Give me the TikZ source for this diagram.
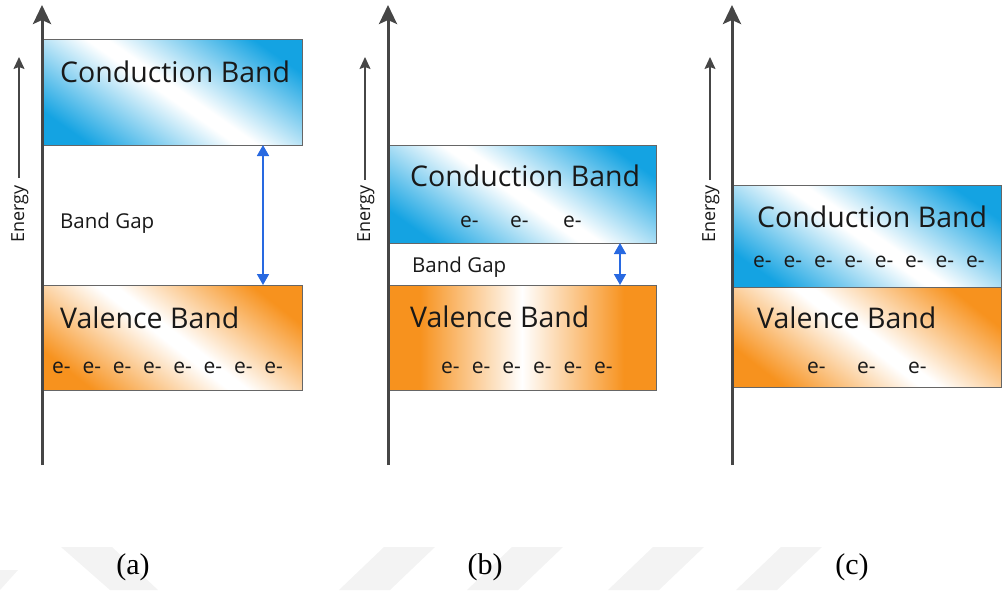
\documentclass[tikz,border=0pt]{standalone}
\usepackage{fontspec}
\setmainfont{Liberation Serif}
\newfontfamily\bandfont{Open Sans}
\usetikzlibrary{arrows.meta}
\definecolor{cblue}{RGB}{20,163,226}
\definecolor{vorange}{RGB}{247,146,30}
\definecolor{axisgray}{RGB}{70,70,70}
\definecolor{gapblue}{RGB}{40,105,225}
\definecolor{wmark}{RGB}{243,243,243}
\definecolor{txtdark}{RGB}{25,25,25}
\pgfdeclarehorizontalshading{cbshade}{100bp}{color(0bp)=(cblue); color(35bp)=(cblue); color(49bp)=(white); color(51bp)=(white); color(65bp)=(cblue); color(100bp)=(cblue)}
\pgfdeclarehorizontalshading{vbshade}{100bp}{color(0bp)=(vorange); color(35bp)=(vorange); color(49bp)=(white); color(51bp)=(white); color(65bp)=(vorange); color(100bp)=(vorange)}
\pgfdeclarehorizontalshading{vbflat}{100bp}{color(0bp)=(vorange); color(33bp)=(vorange); color(50bp)=(white); color(67bp)=(vorange); color(100bp)=(vorange)}
\tikzset{
  band/.style={draw=black!60, line width=1pt, inner sep=0pt, outer sep=0pt, anchor=north west},
  cbandbox/.style={band, path picture={\shade[shading=cbshade, shading angle=55] (path picture bounding box.center) ++(-150,-150) rectangle ++(300,300);}},
  vbandbox/.style={band, path picture={\shade[shading=vbshade, shading angle=52] (path picture bounding box.center) ++(-150,-150) rectangle ++(300,300);}},
  vbandflat/.style={band, path picture={\shade[shading=vbflat] (path picture bounding box.center) ++(-150,-150) rectangle ++(300,300);}},
  bigtxt/.style={font=\bandfont\fontsize{28.5}{28.5}\selectfont, text=txtdark, inner sep=0pt, anchor=base west},
  gaptxt/.style={font=\bandfont\fontsize{20.5}{20.5}\selectfont, text=txtdark, inner sep=0pt, anchor=base west},
  etxt/.style={font=\bandfont\fontsize{21}{21}\selectfont, text=txtdark, inner sep=0pt, anchor=base west},
  entxt/.style={font=\bandfont\fontsize{18}{18}\selectfont, text=txtdark, rotate=90, anchor=base, inner sep=0pt},
  axisline/.style={draw=axisgray, line width=3pt, -{Stealth[length=19pt,width=18pt,inset=4pt]}},
  enarrow/.style={draw=axisgray, line width=1.4pt, -{Stealth[length=12pt,width=11pt,inset=2pt]}},
  gaparrow/.style={draw=gapblue, line width=1.6pt, {Triangle[length=11pt,width=12pt]}-{Triangle[length=11pt,width=12pt]}},
  sublabel/.style={font=\fontsize{30}{30}\selectfont, inner sep=0pt}
}
\begin{document}
\begin{tikzpicture}[x=1pt,y=-1pt]
\useasboundingbox (0,0) rectangle (1002,590);
% faint watermark stripes
\fill[wmark] (61,547) -- (112,547) -- (158,590) -- (110,590) -- cycle;
\fill[wmark] (0,570) -- (18,570) -- (0,590) -- cycle;
\fill[wmark] (384,547) -- (435,547) -- (390,590) -- (339,590) -- cycle;
\fill[wmark] (512,547) -- (563,547) -- (518,590) -- (467,590) -- cycle;
\fill[wmark] (653,547) -- (704,547) -- (659,590) -- (608,590) -- cycle;
\fill[wmark] (781,547) -- (822,547) -- (777,590) -- (736,590) -- cycle;

% ---------- panel (a)
\node[cbandbox, minimum width=260pt, minimum height=106pt] (cbA) at (42,39) {};
\node[vbandbox, minimum width=260pt, minimum height=105pt] (vbA) at (42,285) {};
\coordinate (axA0) at (42,465); \coordinate (axA1) at (42,5);
\draw[axisline] (axA0) -- (axA1);
\coordinate (enA0) at (19,178); \coordinate (enA1) at (19,57);
\draw[enarrow] (enA0) -- (enA1);
\node[entxt] (enA) at (24,214) {Energy};
\node[bigtxt] (cbAt) at (60,82) {Conduction Band};
\node[gaptxt] (gapAt) at (60,228) {Band Gap};
\node[bigtxt] (vbAt) at (60,328) {Valence Band};
\foreach \i in {0,...,7} \node[etxt] (eA\i) at (52+30.3*\i,373) {e-};
\coordinate (gA) at (263,0);
\draw[gaparrow] (cbA.south -| gA) -- (vbA.north -| gA);
\node[sublabel] (labA) at (133,567) {(a)};

% ---------- panel (b)
\node[cbandbox, minimum width=268pt, minimum height=98pt] (cbB) at (388,145) {};
\node[vbandflat, minimum width=268pt, minimum height=105pt] (vbB) at (388,285) {};
\coordinate (axB0) at (388,465); \coordinate (axB1) at (388,5);
\draw[axisline] (axB0) -- (axB1);
\coordinate (enB0) at (365,180); \coordinate (enB1) at (365,57);
\draw[enarrow] (enB0) -- (enB1);
\node[entxt] (enB) at (370,214) {Energy};
\node[bigtxt] (cbBt) at (410,186) {Conduction Band};
\node[etxt] (eBc1) at (460,227) {e-};
\node[etxt] (eBc2) at (510,227) {e-};
\node[etxt] (eBc3) at (563,227) {e-};
\node[gaptxt] (gapBt) at (412,272) {Band Gap};
\node[bigtxt] (vbBt) at (410,327) {Valence Band};
\foreach \i in {0,...,5} \node[etxt] (eB\i) at (441+30.6*\i,373) {e-};
\coordinate (gB) at (620,0);
\draw[gaparrow] (cbB.south -| gB) -- (vbB.north -| gB);
\node[sublabel] (labB) at (485,567) {(b)};

% ---------- panel (c)
\node[cbandbox, minimum width=269pt, minimum height=102pt] (cbC) at (732,185) {};
\node[vbandbox, minimum width=269pt, minimum height=100pt] (vbC) at (732,287) {};
\coordinate (axC0) at (732,465); \coordinate (axC1) at (732,5);
\draw[axisline] (axC0) -- (axC1);
\coordinate (enC0) at (710,180); \coordinate (enC1) at (710,57);
\draw[enarrow] (enC0) -- (enC1);
\node[entxt] (enC) at (715,214) {Energy};
\node[bigtxt] (cbCt) at (757,227) {Conduction Band};
\foreach \i in {0,...,7} \node[etxt] (eC\i) at (753+30.4*\i,267) {e-};
\node[bigtxt] (vbCt) at (757,328) {Valence Band};
\node[etxt] (eCv1) at (807,373) {e-};
\node[etxt] (eCv2) at (857,373) {e-};
\node[etxt] (eCv3) at (908,373) {e-};
\node[sublabel] (labC) at (852,567) {(c)};
\end{tikzpicture}
\end{document}
